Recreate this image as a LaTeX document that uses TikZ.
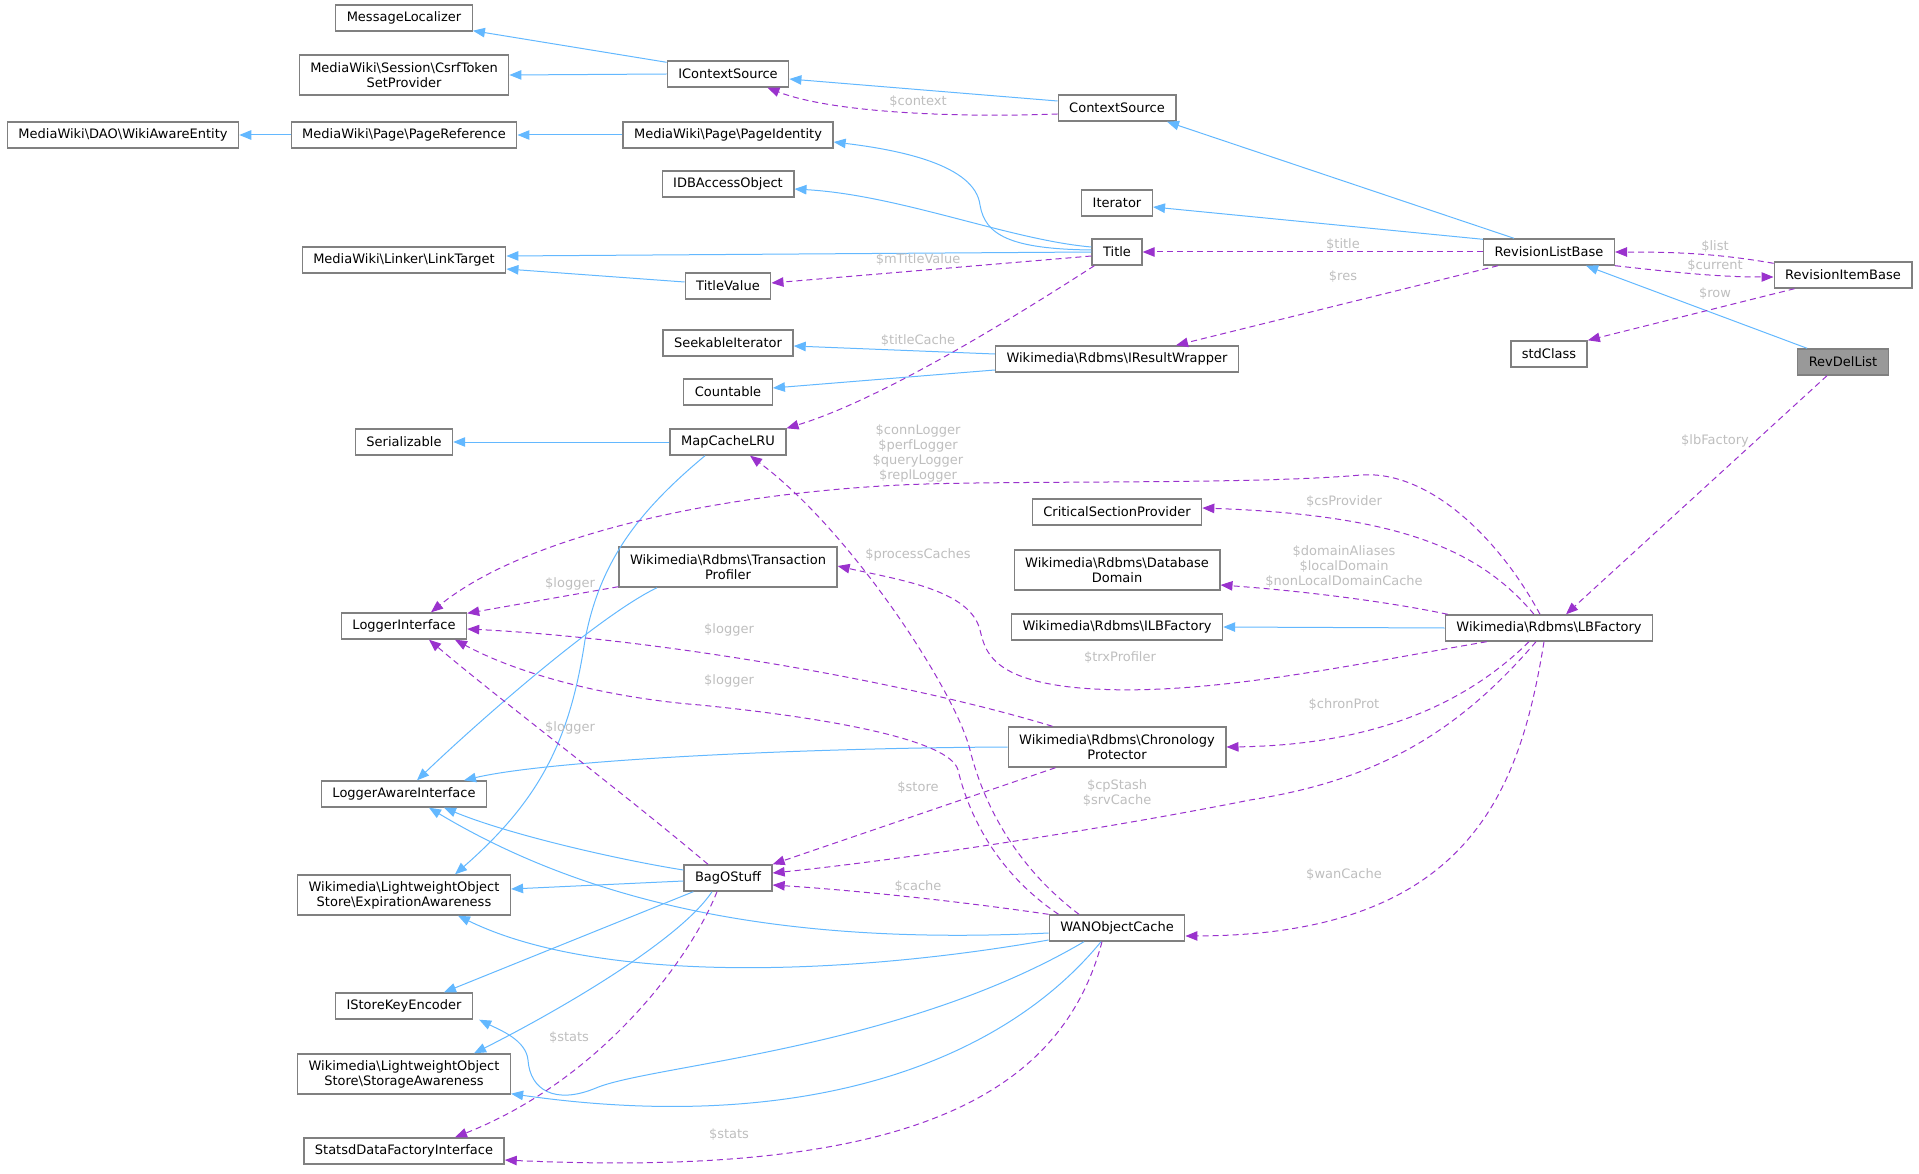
\documentclass[tikz,border=0pt]{standalone}
\usepackage{fontspec}
\setmainfont{DejaVu Sans}
\usetikzlibrary{arrows.meta}
\definecolor{inhblue}{HTML}{63B8FF}
\definecolor{usepurple}{HTML}{9A32CD}
\definecolor{lblgrey}{HTML}{BEBEBE}
\definecolor{boxgrey}{HTML}{808080}
\definecolor{focusgrey}{HTML}{999999}
\newcommand{\nsep}{\textbackslash}
\tikzset{
  cls/.style={draw=boxgrey, line width=1.4pt, fill=white, inner xsep=11pt, inner ysep=0pt,
    minimum height=26pt, align=center, font=\fontsize{13pt}{15pt}\selectfont},
  cls2/.style={cls, minimum height=40pt},
  focus/.style={cls, fill=focusgrey},
  inh/.style={draw=inhblue, line width=1pt, -{Triangle[length=12pt,width=9.5pt]}},
  use/.style={draw=usepurple, line width=1pt, dash pattern=on 6pt off 4pt,
    -{Triangle[length=12pt,width=9.5pt]}},
  lbl/.style={text=lblgrey, inner sep=0pt, align=center, font=\fontsize{13pt}{15pt}\selectfont},
}
\begin{document}
\begin{tikzpicture}[x=1pt,y=-1pt]
  \useasboundingbox (0,0) rectangle (1919,1174);
  % classes
  \node[cls] (ML) at (404,18) {MessageLocalizer};
  \node[cls2] (CSP) at (404,75) {MediaWiki\nsep Session\nsep CsrfToken\\SetProvider};
  \node[cls] (WAE) at (123,135) {MediaWiki\nsep DAO\nsep WikiAwareEntity};
  \node[cls] (PR) at (404,135) {MediaWiki\nsep Page\nsep PageReference};
  \node[cls] (LT) at (404,260) {MediaWiki\nsep Linker\nsep LinkTarget};
  \node[cls] (Ser) at (404,442) {Serializable};
  \node[cls] (LI) at (404,626) {LoggerInterface};
  \node[cls] (LAI) at (404,794) {LoggerAwareInterface};
  \node[cls2] (EA) at (404,895) {Wikimedia\nsep LightweightObject\\Store\nsep ExpirationAwareness};
  \node[cls] (ISKE) at (404,1006) {IStoreKeyEncoder};
  \node[cls2] (SA) at (404,1074) {Wikimedia\nsep LightweightObject\\Store\nsep StorageAwareness};
  \node[cls] (SDFI) at (404,1151) {StatsdDataFactoryInterface};
  \node[cls] (ICS) at (728,74) {IContextSource};
  \node[cls] (PI) at (728,135) {MediaWiki\nsep Page\nsep PageIdentity};
  \node[cls] (IDB) at (728,184) {IDBAccessObject};
  \node[cls] (TV) at (728,286) {TitleValue};
  \node[cls] (SI) at (728,343) {SeekableIterator};
  \node[cls] (Co) at (728,392) {Countable};
  \node[cls] (MC) at (728,442) {MapCacheLRU};
  \node[cls2] (TP) at (728,567) {Wikimedia\nsep Rdbms\nsep Transaction\\Profiler};
  \node[cls] (BOS) at (728,878) {BagOStuff};
  \node[cls] (CS) at (1117,108) {ContextSource};
  \node[cls] (It) at (1117,203) {Iterator};
  \node[cls] (Ti) at (1117,252) {Title};
  \node[cls] (IRW) at (1117,359) {Wikimedia\nsep Rdbms\nsep IResultWrapper};
  \node[cls] (CSPr) at (1117,512) {CriticalSectionProvider};
  \node[cls2] (DD) at (1117,570) {Wikimedia\nsep Rdbms\nsep Database\\Domain};
  \node[cls] (ILB) at (1117,627) {Wikimedia\nsep Rdbms\nsep ILBFactory};
  \node[cls2] (CP) at (1117,747) {Wikimedia\nsep Rdbms\nsep Chronology\\Protector};
  \node[cls] (WAN) at (1117,928) {WANObjectCache};
  \node[cls] (RLB) at (1549,252) {RevisionListBase};
  \node[cls] (std) at (1549,354) {stdClass};
  \node[cls] (LBF) at (1549,628) {Wikimedia\nsep Rdbms\nsep LBFactory};
  \node[cls] (RIB) at (1843,275) {RevisionItemBase};
  \node[focus] (RDL) at (1843,362) {RevDelList};

  % inheritance
  \draw[inh] ([yshift=-2pt]ICS.north west) -- ([yshift=1pt]ML.south east);
  \draw[inh] (ICS.west) -- (CSP.east);
  \draw[inh] (PR.west) -- (WAE.east);
  \draw[inh] (PI.west) -- (PR.east);
  \draw[inh] ([yshift=7pt]CS.west) -- ([yshift=-5pt]ICS.east);
  \draw[inh] ([yshift=2pt]Ti.west) .. controls (1010,249) and (985,235) .. (980,205)
    .. controls (975,165) and (900,150) .. ([yshift=-7pt]PI.east);
  \draw[inh] ([yshift=5pt]Ti.west) .. controls (1010,240) and (900,195) .. ([yshift=-5pt]IDB.east);
  \draw[inh] (Ti.west) -- ([yshift=4pt]LT.east);
  \draw[inh] ([yshift=4pt]TV.west) -- ([yshift=-9pt]LT.east);
  \draw[inh] ([xshift=-35pt]RLB.north) -- ([xshift=50pt]CS.south);
  \draw[inh] ([yshift=-1pt]RLB.north west) -- ([yshift=-4pt]It.east);
  \draw[inh] ([xshift=10pt]RDL.north west) -- ([xshift=-29pt]RLB.south east);
  \draw[inh] ([yshift=5pt]IRW.west) -- ([yshift=-3pt]SI.east);
  \draw[inh] ([yshift=-11pt]IRW.west) -- ([yshift=4pt]Co.east);
  \draw[inh] (MC.west) -- (Ser.east);
  \draw[inh] ([xshift=-23pt]MC.south) .. controls (640,510) and (600,560) .. (585,640)
    .. controls (570,740) and (540,800) .. ([xshift=51pt]EA.north);
  \draw[inh] ([xshift=-71pt]TP.south) .. controls (600,615) and (480,720) .. ([xshift=13pt]LAI.north);
  \draw[inh] (CP.west) .. controls (800,748) and (550,760) .. ([xshift=60pt]LAI.north);
  \draw[inh] (LBF.west) -- (ILB.east);
  \draw[inh] ([yshift=8pt]BOS.west) .. controls (620,860) and (510,835) .. ([xshift=40pt]LAI.south);
  \draw[inh] ([yshift=-3pt]BOS.west) -- ([yshift=6pt]EA.east);
  \draw[inh] ([xshift=10pt]BOS.south west) -- ([xshift=40pt]ISKE.north);
  \draw[inh] ([xshift=-16pt]BOS.south) .. controls (680,940) and (560,1010) .. ([xshift=70pt]SA.north);
  \draw[inh] ([yshift=-5pt]WAN.west) .. controls (800,945) and (600,910) .. ([xshift=25pt]LAI.south);
  \draw[inh] ([yshift=-12pt]WAN.west) .. controls (850,975) and (600,985) .. ([xshift=54pt]EA.south);
  \draw[inh] ([xshift=-33pt]WAN.south) .. controls (900,1050) and (650,1065) .. (596,1088)
    .. controls (555,1105) and (530,1090) .. (528,1060)
    .. controls (526,1040) and (500,1030) .. ([xshift=6pt]ISKE.south east);
  \draw[inh] ([xshift=-16pt]WAN.south) .. controls (1000,1065) and (800,1135) .. ([yshift=1pt]SA.south east);

  % members
  \draw[use] ([yshift=-6pt]CS.west) .. controls (950,118) and (830,112) .. ([xshift=-22pt]ICS.south east);
  \draw[use] (RLB.west) -- (Ti.east);
  \draw[use] ([yshift=-4pt]Ti.west) -- ([yshift=3pt]TV.east);
  \draw[use] ([xshift=3pt]Ti.south west) .. controls (1010,320) and (880,400) .. (MC.north east);
  \draw[use] ([xshift=15pt]RLB.south west) -- ([xshift=59pt]IRW.north);
  \draw[use] ([yshift=-2pt]RIB.north west) .. controls (1720,254) and (1680,252) .. (RLB.east);
  \draw[use] (RLB.south east) .. controls (1680,273) and (1720,277) .. ([yshift=-2pt]RIB.west);
  \draw[use] ([xshift=21pt]RIB.south west) -- (std.north east);
  \draw[use] ([xshift=-16pt]RDL.south) -- ([xshift=17pt]LBF.north);
  \draw[use] ([xshift=-9pt]LBF.north) .. controls (1500,540) and (1430,470) .. (1361,475)
    .. controls (1250,485) and (1000,480) .. (900,485)
    .. controls (700,495) and (520,540) .. ([xshift=27pt]LI.north);
  \draw[use] ([xshift=-15pt]LBF.north) .. controls (1480,550) and (1400,515) .. ([yshift=4pt]CSPr.east);
  \draw[use] ([xshift=3pt]LBF.north west) .. controls (1380,600) and (1290,590) .. ([yshift=-15pt]DD.east);
  \draw[use] ([xshift=42pt]LBF.south west) .. controls (1350,665) and (1200,698) .. (1080,688)
    .. controls (990,680) and (985,650) .. (980,630)
    .. controls (970,590) and (900,580) .. ([yshift=1pt]TP.east);
  \draw[use] ([xshift=-20pt]LBF.south) .. controls (1470,700) and (1380,745) .. (CP.east);
  \draw[use] ([xshift=-13pt]LBF.south) .. controls (1460,730) and (1380,780) .. (1250,800)
    .. controls (1100,830) and (900,860) .. ([yshift=5pt]BOS.east);
  \draw[use] ([xshift=-5pt]LBF.south) .. controls (1520,790) and (1470,935) .. ([yshift=-8pt]WAN.east);
  \draw[use] ([yshift=1pt]TP.south west) -- ([yshift=-1pt]LI.north east);
  \draw[use] ([xshift=45pt]CP.north west) .. controls (900,680) and (650,638) .. ([yshift=-3pt]LI.east);
  \draw[use] ([xshift=10pt]WAN.north west) .. controls (1000,875) and (970,820) .. (958,770)
    .. controls (950,740) and (830,718) .. (700,705)
    .. controls (610,698) and (520,675) .. ([xshift=51pt]LI.south);
  \draw[use] ([xshift=-20pt]BOS.north) .. controls (620,790) and (500,700) .. ([xshift=25pt]LI.south);
  \draw[use] ([xshift=48pt]CP.south west) -- (BOS.north east);
  \draw[use] (WAN.north west) .. controls (950,900) and (850,890) .. ([yshift=-7pt]BOS.east);
  \draw[use] ([xshift=-38pt]WAN.north) .. controls (1020,870) and (985,810) .. (970,750)
    .. controls (955,690) and (850,530) .. ([xshift=22pt]MC.south);
  \draw[use] ([xshift=-11pt]BOS.south) .. controls (690,960) and (600,1080) .. ([xshift=51pt]SDFI.north);
  \draw[use] ([xshift=-15pt]WAN.south) .. controls (1060,1100) and (900,1178) .. ([yshift=-9pt]SDFI.east);

  % member labels
  \node[lbl] (l-context) at (918,102) {\$context};
  \node[lbl] (l-title) at (1343,245) {\$title};
  \node[lbl] (l-res) at (1343,277) {\$res};
  \node[lbl] (l-mtv) at (918,260) {\$mTitleValue};
  \node[lbl] (l-tcache) at (918,341) {\$titleCache};
  \node[lbl] (l-list) at (1715,247) {\$list};
  \node[lbl] (l-current) at (1715,266) {\$current};
  \node[lbl] (l-row) at (1715,294) {\$row};
  \node[lbl] (l-lbf) at (1715,441) {\$lbFactory};
  \node[lbl] (l-loggers) at (918,453) {\$connLogger\\\$perfLogger\\\$queryLogger\\\$replLogger};
  \node[lbl] (l-csp) at (1344,502) {\$csProvider};
  \node[lbl] (l-domain) at (1344,567) {\$domainAliases\\\$localDomain\\\$nonLocalDomainCache};
  \node[lbl] (l-pcache) at (918,555) {\$processCaches};
  \node[lbl] (l-logtp) at (570,584) {\$logger};
  \node[lbl] (l-logcp) at (729,630) {\$logger};
  \node[lbl] (l-logwan) at (729,681) {\$logger};
  \node[lbl] (l-logbos) at (570,728) {\$logger};
  \node[lbl] (l-trx) at (1120,658) {\$trxProfiler};
  \node[lbl] (l-chron) at (1344,705) {\$chronProt};
  \node[lbl] (l-store) at (918,788) {\$store};
  \node[lbl] (l-stash) at (1117,793) {\$cpStash\\\$srvCache};
  \node[lbl] (l-wan) at (1344,875) {\$wanCache};
  \node[lbl] (l-cache) at (918,887) {\$cache};
  \node[lbl] (l-statsbos) at (569,1038) {\$stats};
  \node[lbl] (l-statswan) at (729,1135) {\$stats};
\end{tikzpicture}
\end{document}
